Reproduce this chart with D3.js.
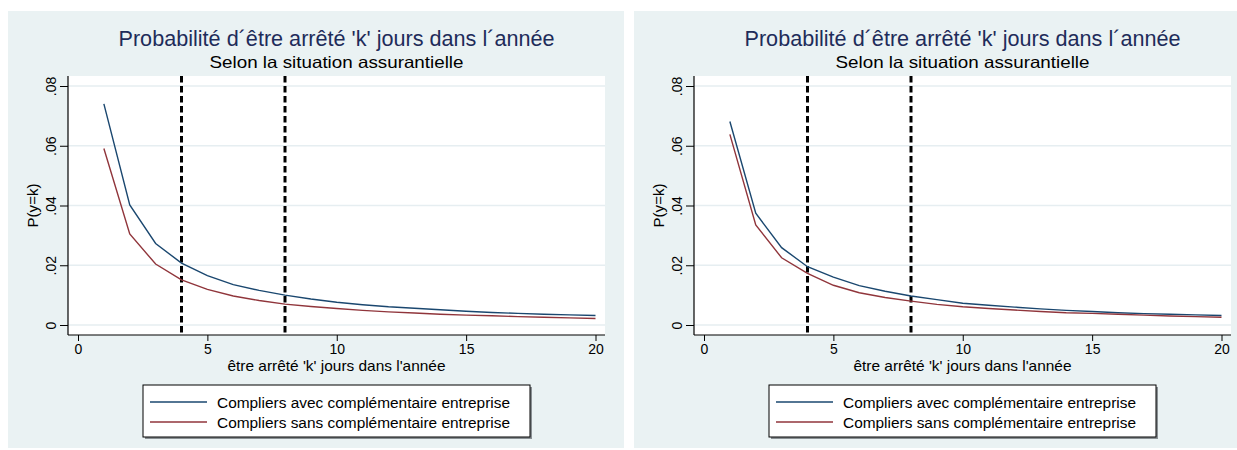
<!DOCTYPE html>
<html><head><meta charset="utf-8">
<script src="https://cdn.jsdelivr.net/npm/d3@7"></script>
<style>body{margin:0;background:#fff}svg{display:block;font-family:"Liberation Sans",Arial,sans-serif}</style>
</head><body>
<svg id="c" width="1237" height="450"></svg>
<script>
const days = d3.range(1, 21);
const leftAvec = [.0740,.0402,.0273,.0207,.0165,.0135,.0116,.0100,.0087,.0076,.0068,.0061,.0056,.0051,.0046,.0042,.0039,.0036,.0034,.0032];
const leftSans = [.0591,.0305,.0204,.0151,.0119,.0097,.0082,.0070,.0062,.0055,.0049,.0044,.0040,.0036,.0033,.0031,.0028,.0026,.0024,.0022];
const rightAvec = [.0681,.0374,.0259,.0195,.0160,.0132,.0113,.0097,.0085,.0073,.0066,.0060,.0054,.0049,.0045,.0041,.0038,.0036,.0034,.0032];
const rightSans = [.0638,.0335,.0225,.0173,.0133,.0108,.0092,.0080,.0069,.0061,.0055,.0050,.0045,.0041,.0039,.0036,.0033,.0030,.0028,.0026];
const xTicks = [0, 5, 10, 15, 20];
const yTicks = [0, .02, .04, .06, .08];
const yTickLabels = ["0", ".02", ".04", ".06", ".08"];
const refLines = [4, 8];
const title = "Probabilité d´être arrêté 'k' jours dans l´année";
const subtitle = "Selon la situation assurantielle";
const xTitle = "être arrêté 'k' jours dans l'année";
const yTitle = "P(y=k)";
const seriesNames = ["Compliers avec complémentaire entreprise", "Compliers sans complémentaire entreprise"];
const colors = ["#1A476F", "#90353B"];

const svg = d3.select("#c");

function panel(ox, pw, avec, sans) {
  const g = svg.append("g").attr("transform", `translate(${ox},0)`);
  g.append("rect").attr("x", 0).attr("y", 11).attr("width", pw).attr("height", 437).attr("fill", "#EAF2F3");
  const L = 60, R = 597, T = 76, B = 335;
  const x = d3.scaleLinear().domain([0, 20]).range([L + 10, R - 9.5]);
  const y = d3.scaleLinear().domain([0, .08]).range([325, 86]);
  g.append("rect").attr("x", L).attr("y", T).attr("width", R - L).attr("height", B - T).attr("fill", "#fff");
  g.selectAll(".grid").data(yTicks).join("line")
    .attr("x1", L).attr("x2", R).attr("y1", d => y(d)).attr("y2", d => y(d))
    .attr("stroke", "#E6EEF1").attr("stroke-width", 1.5);
  g.selectAll(".ref").data(refLines).join("line")
    .attr("x1", d => x(d)).attr("x2", d => x(d)).attr("y1", T).attr("y2", B)
    .attr("stroke", "#000").attr("stroke-width", 3).attr("stroke-dasharray", "6.5,3.5");
  const line = d3.line().x((d, i) => x(days[i])).y(d => y(d));
  [avec, sans].forEach((s, i) => {
    g.append("path").datum(s).attr("d", line).attr("fill", "none")
      .attr("stroke", colors[i]).attr("stroke-width", 1.4);
  });
  const ya = g.append("g").attr("transform", `translate(${L},0)`)
    .call(d3.axisLeft(y).tickValues(yTicks).tickFormat((d, i) => yTickLabels[i]).tickSize(8).tickSizeOuter(0));
  ya.select(".domain").attr("d", `M0,${T}V${B}`).attr("stroke", "#000").attr("stroke-width", 1.2);
  ya.selectAll(".tick line").attr("stroke", "#000").attr("stroke-width", 1);
  ya.selectAll(".tick text").attr("font-size", 14).attr("fill", "#000")
    .attr("transform", "rotate(-90)").attr("x", 0).attr("y", -12).attr("dy", 0)
    .attr("text-anchor", "middle");
  const xa = g.append("g").attr("transform", `translate(0,${B})`)
    .call(d3.axisBottom(x).tickValues(xTicks).tickSize(6).tickSizeOuter(0));
  xa.select(".domain").attr("d", `M${L},0H${R}`).attr("stroke", "#000").attr("stroke-width", 1.2);
  xa.selectAll(".tick line").attr("stroke", "#000");
  xa.selectAll(".tick text").attr("font-size", 14).attr("fill", "#000").attr("y", 9).attr("dy", "0.71em");
  const cx = (L + R) / 2;
  g.append("text").attr("x", cx).attr("y", 46).attr("text-anchor", "middle")
    .attr("font-size", 21.5).attr("fill", "#1E2C5A")
    .attr("textLength", 436).attr("lengthAdjust", "spacingAndGlyphs").text(title);
  g.append("text").attr("x", cx).attr("y", 67.5).attr("text-anchor", "middle")
    .attr("font-size", 16.5).attr("fill", "#000")
    .attr("textLength", 254).attr("lengthAdjust", "spacingAndGlyphs").text(subtitle);
  g.append("text").attr("x", cx).attr("y", 371).attr("text-anchor", "middle")
    .attr("font-size", 14.5).attr("fill", "#000")
    .attr("textLength", 218).attr("lengthAdjust", "spacingAndGlyphs").text(xTitle);
  g.append("text").attr("transform", `translate(${L - 30},${(T + B) / 2}) rotate(-90)`)
    .attr("text-anchor", "middle").attr("font-size", 14.5).attr("fill", "#000")
    .attr("textLength", 44).attr("lengthAdjust", "spacingAndGlyphs").text(yTitle);
  const lw = 387, lh = 52, lx = cx - lw / 2, ly = 385;
  g.append("rect").attr("x", lx + 2).attr("y", ly + 2).attr("width", lw).attr("height", lh).attr("fill", "#8A9094");
  g.append("rect").attr("x", lx).attr("y", ly).attr("width", lw).attr("height", lh)
    .attr("fill", "#fff").attr("stroke", "#000").attr("stroke-width", 1);
  seriesNames.forEach((n, i) => {
    const yy = ly + 17 + i * 20;
    g.append("line").attr("x1", lx + 7).attr("x2", lx + 64).attr("y1", yy).attr("y2", yy)
      .attr("stroke", colors[i]).attr("stroke-width", 1.4);
    g.append("text").attr("x", lx + 74).attr("y", yy + 5.5).attr("font-size", 15.5).attr("fill", "#000")
      .attr("textLength", 293).attr("lengthAdjust", "spacingAndGlyphs").text(n);
  });
}
panel(8, 616, leftAvec, leftSans);
panel(634, 610, rightAvec, rightSans);
</script>
</body></html>
